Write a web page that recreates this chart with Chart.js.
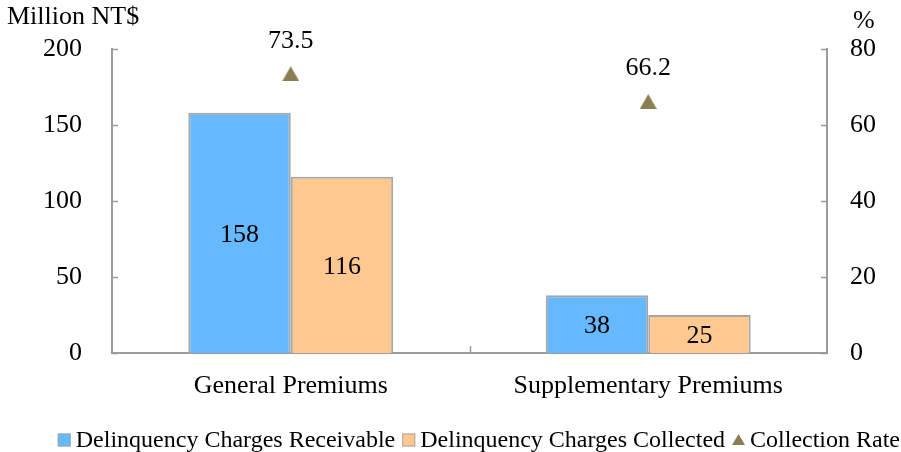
<!DOCTYPE html>
<html>
<head>
<meta charset="utf-8">
<title>Delinquency Charges</title>
<script src="https://cdn.jsdelivr.net/npm/chart.js@4/dist/chart.umd.min.js"></script>
<style>
  html, body { margin: 0; padding: 0; background: #ffffff; }
  #wrap { width: 901px; height: 452px; position: relative; }
</style>
</head>
<body>
<div id="wrap"><canvas id="chart" width="901" height="452"></canvas></div>
<script>
// Categories and series
const categories = ['General Premiums', 'Supplementary Premiums'];
const receivable = [158, 38];      // Million NT$
const collected = [116, 25];       // Million NT$
const collectionRate = [73.5, 66.2]; // %

const seriesNames = ['Delinquency Charges Receivable', 'Delinquency Charges Collected', 'Collection Rate'];
const leftTicks = [0, 50, 100, 150, 200];
const rightTicks = [0, 20, 40, 60, 80];

const FONT = '"Liberation Serif", "Times New Roman", serif';
const BLUE = '#66B9FF';
const ORANGE = '#FFC890';
const RATE = '#8B7E52';
const EDGE = '#A6A6A6';
const AXIS = '#9C9C9C';

// Triangle marker whose bounding box is centred on the data point
function triangleMarker(w, h, color) {
  const c = document.createElement('canvas');
  c.width = w; c.height = h;
  const g = c.getContext('2d');
  g.fillStyle = color;
  g.beginPath();
  g.moveTo(w / 2, 0);
  g.lineTo(w, h);
  g.lineTo(0, h);
  g.closePath();
  g.fill();
  return c;
}
const rateMarker = triangleMarker(17, 15, RATE);

// Axis titles, inner tick marks, value labels and legend
const decorations = {
  id: 'decorations',
  afterDraw(chart) {
    const ctx = chart.ctx;
    const area = chart.chartArea;
    const yL = chart.scales.y, yR = chart.scales.y1, x = chart.scales.x;
    ctx.save();

    // tick marks pointing into the plot
    ctx.strokeStyle = AXIS;
    ctx.lineWidth = 1.5;
    ctx.beginPath();
    leftTicks.forEach(v => {
      const py = Math.round(yL.getPixelForValue(v)) + 0.5;
      ctx.moveTo(area.left, py); ctx.lineTo(area.left + 6, py);
    });
    rightTicks.forEach(v => {
      const py = Math.round(yR.getPixelForValue(v)) + 0.5;
      ctx.moveTo(area.right, py); ctx.lineTo(area.right - 6, py);
    });
    for (let i = 1; i < categories.length; i++) {
      const px = Math.round((x.getPixelForValue(i - 1) + x.getPixelForValue(i)) / 2) + 0.5;
      ctx.moveTo(px, area.bottom); ctx.lineTo(px, area.bottom - 7);
    }
    ctx.stroke();

    // axis titles
    ctx.fillStyle = '#000';
    ctx.font = '26px ' + FONT;
    ctx.textBaseline = 'alphabetic';
    ctx.textAlign = 'left';
    ctx.fillText('Million NT$', 7, 24);
    ctx.fillText('%', 853, 28);

    // value labels inside bars
    ctx.textAlign = 'center';
    ctx.textBaseline = 'middle';
    [0, 1].forEach(di => {
      const meta = chart.getDatasetMeta(di);
      meta.data.forEach((el, i) => {
        const v = chart.data.datasets[di].data[i];
        ctx.fillText(String(v), el.x, (el.y + el.base) / 2 + 2);
      });
    });

    // collection rate labels above markers
    ctx.textBaseline = 'alphabetic';
    const rm = chart.getDatasetMeta(2);
    rm.data.forEach((el, i) => {
      ctx.fillText(collectionRate[i].toFixed(1), el.x, el.y - 26);
    });

    // legend
    ctx.font = '24px ' + FONT;
    const ly = 440;
    const box = 13, gapText = 5, gapItem = 7;
    const items = chart.data.datasets.map(d => ({
      label: d.label,
      color: d.backgroundColor,
      marker: d.type === 'line' ? 'triangle' : 'box'
    }));
    const widths = items.map(it => box + gapText + ctx.measureText(it.label).width);
    const total = widths.reduce((a, b) => a + b, 0) + gapItem * (items.length - 1);
    let lx = 900 - total;
    ctx.textAlign = 'left';
    ctx.textBaseline = 'middle';
    items.forEach((it, i) => {
      if (it.marker === 'box') {
        ctx.fillStyle = it.color;
        ctx.fillRect(lx, ly - box / 2, box, box);
        ctx.strokeStyle = EDGE;
        ctx.lineWidth = 1;
        ctx.strokeRect(lx + 0.5, ly - box / 2 + 0.5, box - 1, box - 1);
      } else {
        ctx.fillStyle = it.color;
        ctx.beginPath();
        ctx.moveTo(lx + box / 2, ly - 6);
        ctx.lineTo(lx + box, ly + 5);
        ctx.lineTo(lx, ly + 5);
        ctx.closePath();
        ctx.fill();
      }
      ctx.fillStyle = '#000';
      ctx.fillText(it.label, lx + box + gapText, ly + 1);
      lx += widths[i] + gapItem;
    });

    ctx.restore();
  }
};

new Chart(document.getElementById('chart'), {
  type: 'bar',
  data: {
    labels: categories,
    datasets: [
      {
        label: seriesNames[0],
        data: receivable,
        backgroundColor: BLUE,
        borderColor: EDGE,
        borderWidth: 2,
        yAxisID: 'y',
        order: 2
      },
      {
        label: seriesNames[1],
        data: collected,
        backgroundColor: ORANGE,
        borderColor: EDGE,
        borderWidth: 2,
        yAxisID: 'y',
        order: 2
      },
      {
        type: 'line',
        label: seriesNames[2],
        data: collectionRate,
        showLine: false,
        backgroundColor: RATE,
        borderColor: RATE,
        pointStyle: rateMarker,
        pointRadius: 9,
        pointHoverRadius: 9,
        pointBorderWidth: 0,
        yAxisID: 'y1',
        order: 1
      }
    ]
  },
  options: {
    responsive: false,
    animation: false,
    events: [],
    layout: { padding: { top: 49, left: 0, right: 0, bottom: 0 } },
    datasets: {
      bar: { categoryPercentage: 0.573, barPercentage: 1.0 }
    },
    plugins: {
      legend: { display: false },
      tooltip: { enabled: false }
    },
    scales: {
      x: {
        grid: { display: false, drawTicks: false },
        border: { display: true, color: AXIS, width: 2 },
        ticks: { color: '#000', font: { family: FONT, size: 26 }, padding: 18 },
        afterFit(s) { s.height = 99; }
      },
      y: {
        position: 'left',
        min: 0, max: 200,
        afterBuildTicks(s) { s.ticks = leftTicks.map(v => ({ value: v })); },
        grid: { display: false, drawTicks: false },
        border: { display: true, color: AXIS, width: 2 },
        ticks: { color: '#000', font: { family: FONT, size: 26 }, padding: 30 },
        afterFit(s) { s.width = 112; }
      },
      y1: {
        position: 'right',
        min: 0, max: 80,
        afterBuildTicks(s) { s.ticks = rightTicks.map(v => ({ value: v })); },
        grid: { display: false, drawTicks: false },
        border: { display: true, color: AXIS, width: 2 },
        ticks: { color: '#000', font: { family: FONT, size: 26 }, padding: 23 },
        afterFit(s) { s.width = 74; }
      }
    }
  },
  plugins: [decorations]
});
</script>
</body>
</html>
